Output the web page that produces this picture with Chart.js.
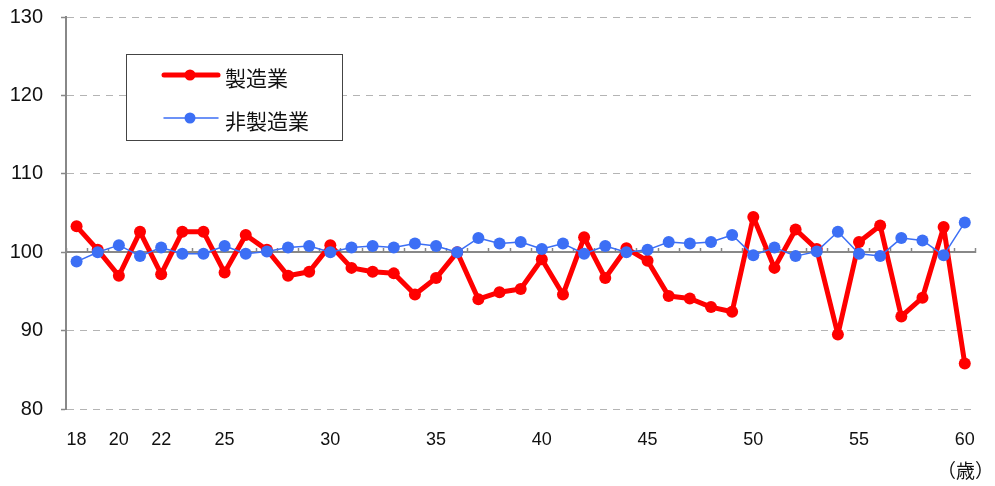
<!DOCTYPE html>
<html>
<head>
<meta charset="utf-8">
<script src="https://cdn.jsdelivr.net/npm/chart.js@4/dist/chart.umd.min.js"></script>
<style>
  html, body { margin: 0; padding: 0; background: #fff; }
</style>
</head>
<body>
<canvas id="grafico" width="995" height="486"></canvas>
<script>
// 年齢（カテゴリ）
const ages = ['18','19','20','21','22','23','24','25','26','27','28','29','30','31','32','33','34','35','36','37','38','39',
              '40','41','42','43','44','45','46','47','48','49','50','51','52','53','54','55','56','57','58','59','60'];
// 目盛りを表示する年齢
const ageTicks = ['18','20','22','25','30','35','40','45','50','55','60'];

const seizogyo = [103.3, 100.3, 97.0, 102.6, 97.2, 102.6, 102.6, 97.4, 102.2, 100.3, 97.0, 97.5, 100.9, 98.0, 97.5, 97.3,
                  94.6, 96.7, 100.0, 94.0, 94.9, 95.3, 99.1, 94.6, 101.9, 96.7, 100.5, 98.9, 94.4, 94.1, 93.0, 92.4,
                  104.5, 98.0, 102.9, 100.4, 89.5, 101.3, 103.4, 91.8, 94.2, 103.2, 85.8];
const hiSeizogyo = [98.8, 100.0, 100.9, 99.5, 100.6, 99.8, 99.8, 100.8, 99.8, 100.1, 100.6, 100.8, 100.0, 100.6, 100.8, 100.6,
                    101.1, 100.8, 100.0, 101.8, 101.1, 101.3, 100.4, 101.1, 99.8, 100.8, 100.0, 100.3, 101.3, 101.1, 101.3, 102.2,
                    99.6, 100.6, 99.5, 100.1, 102.6, 99.8, 99.5, 101.8, 101.5, 99.6, 103.8];

const yMin = 80, yMax = 130, yStep = 10, yBase = 100;

const RED = '#ff0000';
const BLUE = '#3c6ff5';

// 凡例（枠付き）と単位
const legendBox = {
    id: 'legendBox',
    afterDraw(chart) {
        const ctx = chart.ctx;
        ctx.save();
        ctx.fillStyle = '#fff';
        ctx.fillRect(126.5, 54.5, 216, 86);
        ctx.strokeStyle = '#444';
        ctx.lineWidth = 1;
        ctx.strokeRect(126.5, 54.5, 216, 86);

        const rows = [{ y: 75, ds: chart.data.datasets[0] }, { y: 118, ds: chart.data.datasets[1] }];
        rows.forEach(r => {
            ctx.strokeStyle = r.ds.borderColor;
            ctx.lineWidth = r.ds.borderWidth;
            ctx.lineCap = 'round';
            ctx.beginPath();
            ctx.moveTo(164, r.y);
            ctx.lineTo(218, r.y);
            ctx.stroke();
            ctx.fillStyle = r.ds.borderColor;
            ctx.beginPath();
            ctx.arc(190, r.y, 5.5, 0, Math.PI * 2);
            ctx.fill();
            ctx.fillStyle = '#111';
            ctx.font = "21px 'Noto Sans CJK JP'";
            ctx.textAlign = 'left';
            ctx.textBaseline = 'middle';
            ctx.fillText(r.ds.label, 225, r.y + 3);
        });

        ctx.font = "19px 'Noto Sans CJK JP'";
        ctx.textAlign = 'right';
        ctx.fillStyle = '#111';
        ctx.fillText('（歳）', 994, 471);
        ctx.restore();
    }
};

Chart.defaults.font.family = "'Liberation Sans', Arial, sans-serif";
Chart.defaults.color = '#111';

const ctxGrafico = document.getElementById('grafico').getContext('2d');
const grafico = new Chart(ctxGrafico, {
    type: 'line',
    data: {
        labels: ages,
        datasets: [{
            label: '製造業',
            data: seizogyo,
            borderColor: RED,
            backgroundColor: RED,
            borderWidth: 5,
            borderJoinStyle: 'round',
            borderCapStyle: 'round',
            pointRadius: 6,
            pointBackgroundColor: RED,
            pointBorderWidth: 0,
            order: 2
        }, {
            label: '非製造業',
            data: hiSeizogyo,
            borderColor: BLUE,
            backgroundColor: BLUE,
            borderWidth: 1.5,
            borderJoinStyle: 'round',
            pointRadius: 6,
            pointBackgroundColor: BLUE,
            pointBorderWidth: 0,
            order: 1
        }]
    },
    options: {
        responsive: false,
        animation: false,
        layout: { padding: { top: 17, right: 19, left: 0, bottom: 0 } },
        plugins: {
            legend: { display: false },
            tooltip: { enabled: false }
        },
        scales: {
            x: {
                type: 'category',
                offset: true,
                grid: { display: false, drawTicks: false, tickLength: 0 },
                border: { display: false },
                ticks: {
                    autoSkip: false,
                    maxRotation: 0,
                    padding: 20,
                    font: { size: 18 },
                    callback: function (val) {
                        const l = this.getLabelForValue(val);
                        return ageTicks.includes(l) ? l : '';
                    }
                },
                afterFit: s => { s.height = 77; }
            },
            x2: {
                type: 'category',
                position: { y: yBase },
                offset: true,
                grid: {
                    offset: true,
                    drawOnChartArea: false,
                    drawTicks: true,
                    tickLength: -5,
                    tickColor: '#888',
                    tickWidth: 1.5
                },
                border: { display: true, color: '#888', width: 2 },
                ticks: { display: false }
            },
            y: {
                min: yMin,
                max: yMax,
                ticks: {
                    stepSize: yStep,
                    padding: 18,
                    font: { size: 20 }
                },
                grid: {
                    color: c => (c.tick && c.tick.value === yBase) ? 'rgba(0,0,0,0)' : '#b4b4b4',
                    lineWidth: 1,
                    drawTicks: true,
                    tickLength: 5,
                    tickColor: '#888',
                    tickWidth: 1.5
                },
                border: { display: true, color: '#888', width: 2, dash: [7, 6] },
                afterFit: s => {
                    s.width = 66;
                    s.paddingTop = 0;
                    s.paddingBottom = 0;
                }
            }
        }
    },
    plugins: [legendBox]
});
</script>
</body>
</html>
